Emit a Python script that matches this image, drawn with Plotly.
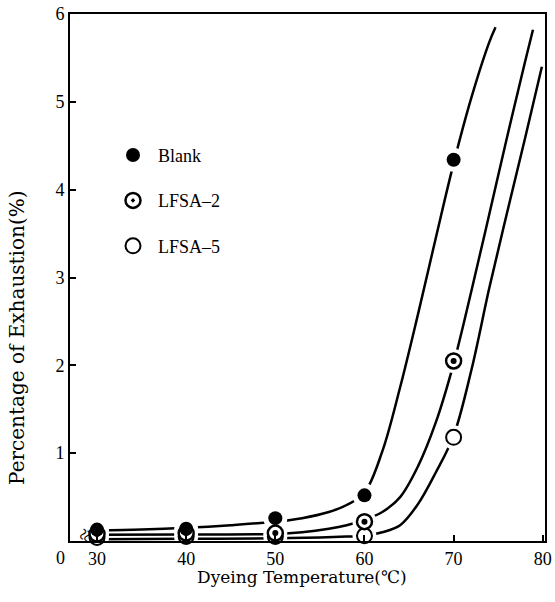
import plotly.graph_objects as go

# measured data points
temps = [30, 40, 50, 60, 70]
blank = [0.13, 0.14, 0.26, 0.52, 4.34]
lfsa2 = [0.08, 0.09, 0.09, 0.22, 2.05]
lfsa5 = [0.04, 0.05, 0.05, 0.06, 1.18]

# hand-drawn trend curves
curve_blank_x = [30, 35, 40, 45, 50, 53, 56, 58, 60, 62, 64, 66, 68, 70, 72, 74, 74.7]
curve_blank_y = [0.12, 0.13, 0.15, 0.18, 0.22, 0.26, 0.33, 0.41, 0.55, 1.02, 1.75, 2.58, 3.45, 4.3, 5.05, 5.68, 5.85]
curve_lfsa2_x = [30, 40, 50, 53, 56, 58, 60, 62, 64, 66, 68, 70, 72, 74, 76, 78, 78.9]
curve_lfsa2_y = [0.07, 0.075, 0.08, 0.1, 0.14, 0.18, 0.24, 0.33, 0.5, 0.85, 1.35, 2.02, 2.85, 3.72, 4.6, 5.45, 5.82]
curve_lfsa5_x = [30, 40, 50, 55, 58, 60, 62, 64, 66, 68, 70, 72, 74, 76, 78, 79.9]
curve_lfsa5_y = [0.02, 0.025, 0.03, 0.04, 0.05, 0.06, 0.1, 0.18, 0.42, 0.78, 1.2, 1.95, 2.88, 3.74, 4.58, 5.4]

x_ticks = [30, 40, 50, 60, 70, 80]
y_ticks = [1, 2, 3, 4, 5, 6]

FONT = "Liberation Serif"

fig = go.Figure()

for cx, cy in [(curve_blank_x, curve_blank_y), (curve_lfsa2_x, curve_lfsa2_y), (curve_lfsa5_x, curve_lfsa5_y)]:
    fig.add_trace(go.Scatter(x=cx, y=cy, mode="lines",
                             line=dict(color="black", width=2.5, shape="spline", smoothing=1),
                             showlegend=False, hoverinfo="skip"))

# white halos that open small gaps in the curves around each point
for ys in [blank, lfsa2, lfsa5]:
    fig.add_trace(go.Scatter(x=temps, y=ys, mode="markers",
                             marker=dict(size=24, color="white"),
                             showlegend=False, hoverinfo="skip"))

fig.add_trace(go.Scatter(x=temps, y=lfsa5, mode="markers", name="LFSA\u20135", legendrank=3,
                         legendgroup="c",
                         marker=dict(symbol="circle", size=15, color="white", line=dict(color="black", width=2)),
                         cliponaxis=False))
fig.add_trace(go.Scatter(x=temps, y=lfsa2, mode="markers", name="LFSA\u20132", legendrank=2,
                         legendgroup="b",
                         marker=dict(symbol="circle-dot", size=15, color="white", line=dict(color="black", width=2.5)),
                         cliponaxis=False))
fig.add_trace(go.Scatter(x=temps, y=lfsa2, mode="markers", showlegend=False, hoverinfo="skip",
                         marker=dict(symbol="circle", size=6, color="black"), cliponaxis=False))
fig.add_trace(go.Scatter(x=temps, y=blank, mode="markers", name="Blank", legendrank=1,
                         legendgroup="a",
                         marker=dict(symbol="circle", size=14, color="black"),
                         cliponaxis=False))

fig.update_layout(
    width=555, height=602,
    margin=dict(l=70, r=10, t=14, b=61, autoexpand=False),
    paper_bgcolor="white", plot_bgcolor="white",
    font=dict(family=FONT, size=18, color="black"),
    showlegend=True,
    legend=dict(x=0.08, y=0.767, xanchor="left", yanchor="top",
                bgcolor="rgba(0,0,0,0)", font=dict(family=FONT, size=18),
                tracegroupgap=19, itemwidth=40),
    xaxis=dict(range=[26.97, 80.25], tickvals=x_ticks, ticks="inside", ticklen=6, tickwidth=2,
               tickcolor="black", showline=True, linecolor="black", linewidth=2, mirror=True,
               showgrid=False, zeroline=False, automargin=False),
    yaxis=dict(range=[0, 6], tickvals=y_ticks, ticks="inside", ticklen=6, tickwidth=2,
               tickcolor="black", showline=True, linecolor="black", linewidth=2, mirror=True,
               showgrid=False, zeroline=False, automargin=False),
    annotations=[
        dict(text="Dyeing Temperature(\u2103)", xref="paper", yref="paper", x=0.488, y=-0.068,
             showarrow=False, xanchor="center", yanchor="middle",
             font=dict(family="DejaVu Serif", size=17)),
        dict(text="Percentage of Exhaustion(%)", xref="paper", yref="paper", x=-0.112, y=0.385,
             showarrow=False, xanchor="center", yanchor="middle", textangle=-90,
             font=dict(family="DejaVu Serif", size=20)),
        dict(text="0", xref="paper", yref="paper", x=-0.021, y=-0.032, showarrow=False,
             xanchor="center", yanchor="middle", font=dict(size=18)),
        dict(text="\u2248", xref="paper", yref="paper", x=0.032, y=0.012, showarrow=False,
             xanchor="center", yanchor="middle", textangle=-65, font=dict(size=22)),
    ],
)

fig.write_html("out.html")
